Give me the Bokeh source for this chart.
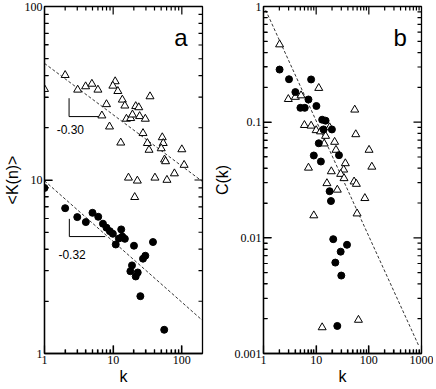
import math
from bokeh.plotting import figure
from bokeh.models import FixedTicker, Range1d
from bokeh.layouts import row
from bokeh.embed import file_html
from bokeh.resources import INLINE
from bokeh.core.properties import value

# ---------------- data: panel a ----------------
ka_tri = [1.0, 2.0, 3.04, 3.97, 4.9, 6.0, 8.0, 6.85, 8.85, 10.7, 9.9, 11.7, 13.6, 14.8,
          12.9, 15.6, 18.0, 19.1, 21.3, 23.6, 24.3, 29.4, 34.4, 27.2, 31.5, 33.3, 51.9,
          53.6, 50.1, 56.0, 58.0, 100, 108, 78, 60.7, 40.6, 22.5, 16.7, 20.6]
va_tri = [33.4, 40.2, 33.1, 34.6, 35.8, 33.1, 27.3, 23.5, 20.3, 37.0, 34.9, 32.5, 29.0, 26.8,
          16.4, 22.5, 22.7, 23.8, 26.6, 26.2, 23.3, 22.5, 30.3, 18.6, 16.3, 14.9, 17.6,
          16.3, 15.2, 13.1, 12.8, 15.0, 12.2, 10.9, 10.0, 10.3, 9.9, 10.3, 7.96]
ka_circ = [1.0, 2.0, 3.0, 4.0, 5.0, 6.06, 7.1, 8.0, 8.95, 9.9, 10.9, 12.1, 13.1, 13.6, 14.8,
           20.1, 38, 29.4, 27.2, 18.8, 17.8, 22.8, 21.3, 24.9, 55.4]
va_circ = [9.0, 6.88, 6.11, 5.72, 6.47, 6.14, 5.6, 5.31, 5.07, 4.9, 4.25, 4.6, 5.19, 4.72, 4.58,
           4.18, 4.39, 3.66, 3.52, 3.22, 2.98, 2.93, 2.78, 2.14, 1.37]
fit_a_tri_k = [1, 200]
fit_a_tri_v = [47, 9.8]
fit_a_circ_k = [1, 200]
fit_a_circ_v = [9.9, 1.55]
slope_a_tri_k = [2.28, 2.28, 6.93]
slope_a_tri_v = [29.6, 23.2, 23.2]
slope_a_circ_k = [2.3, 2.3, 7.66]
slope_a_circ_v = [5.97, 4.72, 4.72]
note_a_k = [2.38, 2.52, 97]
note_a_v = [19.5, 3.72, 66]
note_a_txt = ["-0.30", "-0.32", "a"]

# ---------------- data: panel b ----------------
kb_tri = [2.02, 2.96, 4.03, 5.17, 11.2, 5.98, 8.02, 10.0, 12.1, 18.0, 15.1, 14.2, 22.4, 23.8,
          7.14, 19.4, 35.8, 33.3, 29.2, 33.8, 52.5, 58, 54, 56.5, 101, 114, 16, 25.2, 84,
          9.02, 59.8, 13.0, 63.5]
cb_tri = [0.469, 0.158, 0.165, 0.170, 0.197, 0.0942, 0.093, 0.085, 0.083, 0.090, 0.0759,
          0.0652, 0.0674, 0.0575, 0.0403, 0.0375, 0.044, 0.0388, 0.0356, 0.0327, 0.0306,
          0.0292, 0.128, 0.0784, 0.0575, 0.0411, 0.0296, 0.026, 0.022, 0.0156, 0.0162,
          0.00168, 0.00195]
kb_circ = [2.02, 3.05, 4.03, 8.02, 7.14, 5.02, 6.07, 10.1, 13.0, 15.1, 13.8, 19.9, 11.2, 9.02,
           12.3, 27.1, 18, 19.1, 21.1, 38.5, 29.2, 23.1, 30.0, 25.2]
cb_circ = [0.285, 0.235, 0.182, 0.234, 0.157, 0.133, 0.133, 0.138, 0.105, 0.103, 0.0865,
           0.0865, 0.0657, 0.0515, 0.0457, 0.0518, 0.0253, 0.0208, 0.00974, 0.00871,
           0.00759, 0.00611, 0.00472, 0.00173]
fit_b_k = [1.1, 900]
fit_b_c = [0.93, 0.00115]
note_b_k = [393]
note_b_c = [0.537]
note_b_txt = ["b"]

# ---------------- ticks ----------------
a_xrange = (1, 200)
a_yrange = (1, 100)
b_xrange = (1, 1000)
b_yrange = (0.001, 1)
a_xticks = [1, 10, 100]
a_xlabels = ["1", "10", "100"]
a_yticks = [1, 10, 100]
a_ylabels = ["1", "10", "100"]
b_xticks = [1, 10, 100, 1000]
b_xlabels = ["1", "10", "100", "1000"]
b_yticks = [0.001, 0.01, 0.1, 1]
b_ylabels = ["0.001", "0.01", "0.1", "1"]

SERIF = "'Liberation Serif'"
SANS = "'Liberation Sans'"
FRAME_W = 158
FRAME_H = 347
MAJOR_LEN = 8
MINOR_LEN = 4
TICK_PX = 1.2


def minors(majors, lo, hi):
    out = []
    for m in majors:
        out += [m * i for i in range(2, 10) if lo < m * i < hi]
    return out


def style_axis(ax, ticks, labels, label, lo, hi):
    ax.ticker = FixedTicker(ticks=ticks, minor_ticks=minors(ticks, lo, hi))
    ax.major_label_overrides = {t: s for t, s in zip(ticks, labels)}
    ax.major_tick_in = MAJOR_LEN
    ax.major_tick_out = 0
    ax.minor_tick_in = MINOR_LEN
    ax.minor_tick_out = 0
    ax.axis_line_color = "black"
    ax.axis_line_width = 1.3
    ax.major_tick_line_color = "black"
    ax.minor_tick_line_color = "black"
    ax.major_tick_line_width = TICK_PX
    ax.minor_tick_line_width = TICK_PX
    ax.major_label_text_font = SERIF
    ax.major_label_text_font_size = "12px"
    ax.major_label_text_color = "black"
    ax.major_label_standoff = 2
    ax.axis_label = label
    ax.axis_label_text_font = SANS
    ax.axis_label_text_font_size = "16px"
    ax.axis_label_text_font_style = "normal"
    ax.axis_label_text_color = "black"
    ax.axis_label_standoff = 1


def draw_ticks(p, xr, yr, xt, yt):
    # inward tick marks on all four sides, drawn as thin filled quads from each frame edge
    ppd_x = FRAME_W / math.log10(xr[1] / xr[0])
    ppd_y = FRAME_H / math.log10(yr[1] / yr[0])
    gx = 10 ** (TICK_PX / 2 / ppd_x)
    gy = 10 ** (TICK_PX / 2 / ppd_y)
    xm = minors(xt, *xr)
    ym = minors(yt, *yr)
    xmaj = [t for t in xt if xr[0] < t < xr[1]]
    ymaj = [t for t in yt if yr[0] < t < yr[1]]
    for ticks, ln in ((xmaj, MAJOR_LEN), (xm, MINOR_LEN)):
        f = 10 ** (ln / ppd_y)
        n = len(ticks)
        left = [t / gx for t in ticks]
        right = [t * gx for t in ticks]
        p.quad(left=left, right=right, bottom=[yr[0]] * n, top=[yr[0] * f] * n,
               fill_color="black", line_color=None)
        p.quad(left=left, right=right, bottom=[yr[1] / f] * n, top=[yr[1]] * n,
               fill_color="black", line_color=None)
    for ticks, ln in ((ymaj, MAJOR_LEN), (ym, MINOR_LEN)):
        f = 10 ** (ln / ppd_x)
        n = len(ticks)
        bottom = [t / gy for t in ticks]
        top = [t * gy for t in ticks]
        p.quad(left=[xr[0]] * n, right=[xr[0] * f] * n, bottom=bottom, top=top,
               fill_color="black", line_color=None)
        p.quad(left=[xr[1] / f] * n, right=[xr[1]] * n, bottom=bottom, top=top,
               fill_color="black", line_color=None)


def make_fig(xr, yr, xt, xl, yt, yl, xlabel, ylabel, right_border):
    p = figure(x_axis_type="log", y_axis_type="log", x_range=Range1d(*xr), y_range=Range1d(*yr),
               frame_width=FRAME_W, frame_height=FRAME_H, output_backend="svg",
               toolbar_location=None, min_border_left=8, min_border_right=right_border,
               min_border_top=6, min_border_bottom=8)
    p.grid.visible = False
    p.outline_line_color = "black"
    p.outline_line_width = 1.3
    style_axis(p.xaxis[0], xt, xl, xlabel, *xr)
    style_axis(p.yaxis[0], yt, yl, ylabel, *yr)
    return p


# ---------------- panel a ----------------
pa = make_fig(a_xrange, a_yrange, a_xticks, a_xlabels, a_yticks, a_ylabels, "k", "<K(n)>", 8)
draw_ticks(pa, a_xrange, a_yrange, a_xticks, a_yticks)
pa.line(fit_a_tri_k, fit_a_tri_v, line_color="black", line_width=0.8, line_dash="3 2")
pa.line(fit_a_circ_k, fit_a_circ_v, line_color="black", line_width=0.8, line_dash="3 2")
pa.line(slope_a_tri_k, slope_a_tri_v, line_color="black", line_width=1)
pa.line(slope_a_circ_k, slope_a_circ_v, line_color="black", line_width=1)
pa.scatter(ka_tri, va_tri, marker="triangle", size=8, fill_color="white",
           line_color="black", line_width=1)
pa.scatter(ka_circ, va_circ, marker="circle", size=7, fill_color="black", line_color="black")
pa.text(note_a_k[:2], note_a_v[:2], text=note_a_txt[:2], text_font=value(SANS),
        text_font_size="12px", text_align="center", text_baseline="middle", text_color="black")
pa.text(note_a_k[2:], note_a_v[2:], text=note_a_txt[2:], text_font=value(SANS),
        text_font_size="24px", text_align="center", text_baseline="middle", text_color="black")

# ---------------- panel b ----------------
pb = make_fig(b_xrange, b_yrange, b_xticks, b_xlabels, b_yticks, b_ylabels, "k", "C(k)", 12)
draw_ticks(pb, b_xrange, b_yrange, b_xticks, b_yticks)
pb.line(fit_b_k, fit_b_c, line_color="black", line_width=0.8, line_dash="3 2")
pb.scatter(kb_tri, cb_tri, marker="triangle", size=8, fill_color="white",
           line_color="black", line_width=1)
pb.scatter(kb_circ, cb_circ, marker="circle", size=7, fill_color="black", line_color="black")
pb.text(note_b_k, note_b_c, text=note_b_txt, text_font=value(SANS),
        text_font_size="24px", text_align="center", text_baseline="middle", text_color="black")

layout = row(pa, pb, spacing=0)
open("out.html", "w").write(file_html(layout, INLINE))
